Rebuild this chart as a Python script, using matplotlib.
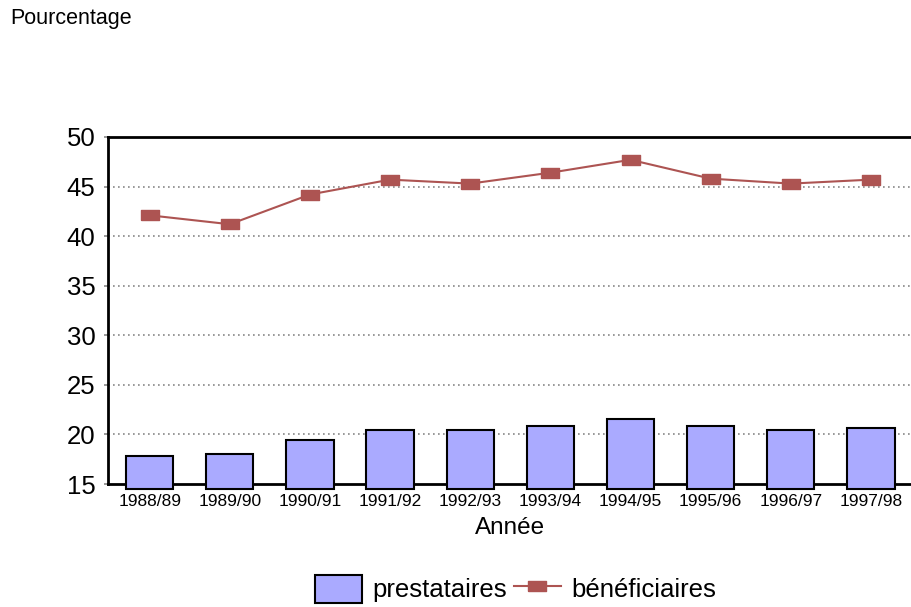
import numpy as np
import matplotlib.pyplot as plt
from matplotlib.patches import Patch
from matplotlib.lines import Line2D

plt.rcParams['font.family'] = ['Liberation Sans', 'DejaVu Sans']

annees = ['1988/89', '1989/90', '1990/91', '1991/92', '1992/93',
          '1993/94', '1994/95', '1995/96', '1996/97', '1997/98']
prestataires = [17.8, 18.0, 19.4, 20.4, 20.4, 20.85, 21.6, 20.85, 20.4, 20.6]
beneficiaires = [42.1, 41.2, 44.2, 45.7, 45.3, 46.4, 47.7, 45.8, 45.3, 45.7]

bar_color = '#AAAAFF'
line_color = '#AD5452'

fig = plt.figure(figsize=(9.11, 6.07), dpi=100)
ax = fig.add_axes([0.1186, 0.2026, 0.8814, 0.5717])

x = np.arange(len(annees))
base = 14.45
ax.bar(x, np.array(prestataires) - base, bottom=base, width=0.59,
       color=bar_color, edgecolor='black', linewidth=1.5, clip_on=False, zorder=3)

rect = [(-1, -0.6), (1, -0.6), (1, 0.6), (-1, 0.6), (-1, -0.6)]
ax.plot(x, beneficiaires, color=line_color, linewidth=1.5,
        marker=rect, markersize=13, markerfacecolor=line_color,
        markeredgecolor=line_color, zorder=4)

ax.set_ylim(15, 50)
ax.set_xlim(-0.52, 9.5)
ax.set_yticks(range(15, 51, 5))
ax.set_xticks(x)
ax.set_xticklabels(annees, fontsize=12.5)
ax.tick_params(axis='y', labelsize=18.5, length=3, width=1.2, color='#888888', pad=6)
ax.tick_params(axis='x', length=0, pad=7)
for yv in range(20, 50, 5):
    ax.axhline(yv, color='#888888', linestyle=(0, (1, 2)), linewidth=1.2, zorder=1)

for s in ['left', 'bottom', 'top']:
    ax.spines[s].set_linewidth(2)
    ax.spines[s].set_zorder(2)
ax.spines['right'].set_visible(False)

ax.set_xlabel('Année', fontsize=17.5, labelpad=6)
fig.text(0.011, 0.97, 'Pourcentage', fontsize=15.5, ha='left', va='center')

handles = [Patch(facecolor=bar_color, edgecolor='black', linewidth=1.5),
           Line2D([], [], color=line_color, linewidth=1.5, marker=rect,
                  markersize=13, markerfacecolor=line_color)]
fig.legend(handles, ['prestataires', 'bénéficiaires'], loc='center',
           bbox_to_anchor=(0.566, 0.03), ncol=2, frameon=False, fontsize=18.5,
           handlelength=1.8, handleheight=1.3, columnspacing=0.3, handletextpad=0.4)

fig.savefig('out.png', dpi=100)
